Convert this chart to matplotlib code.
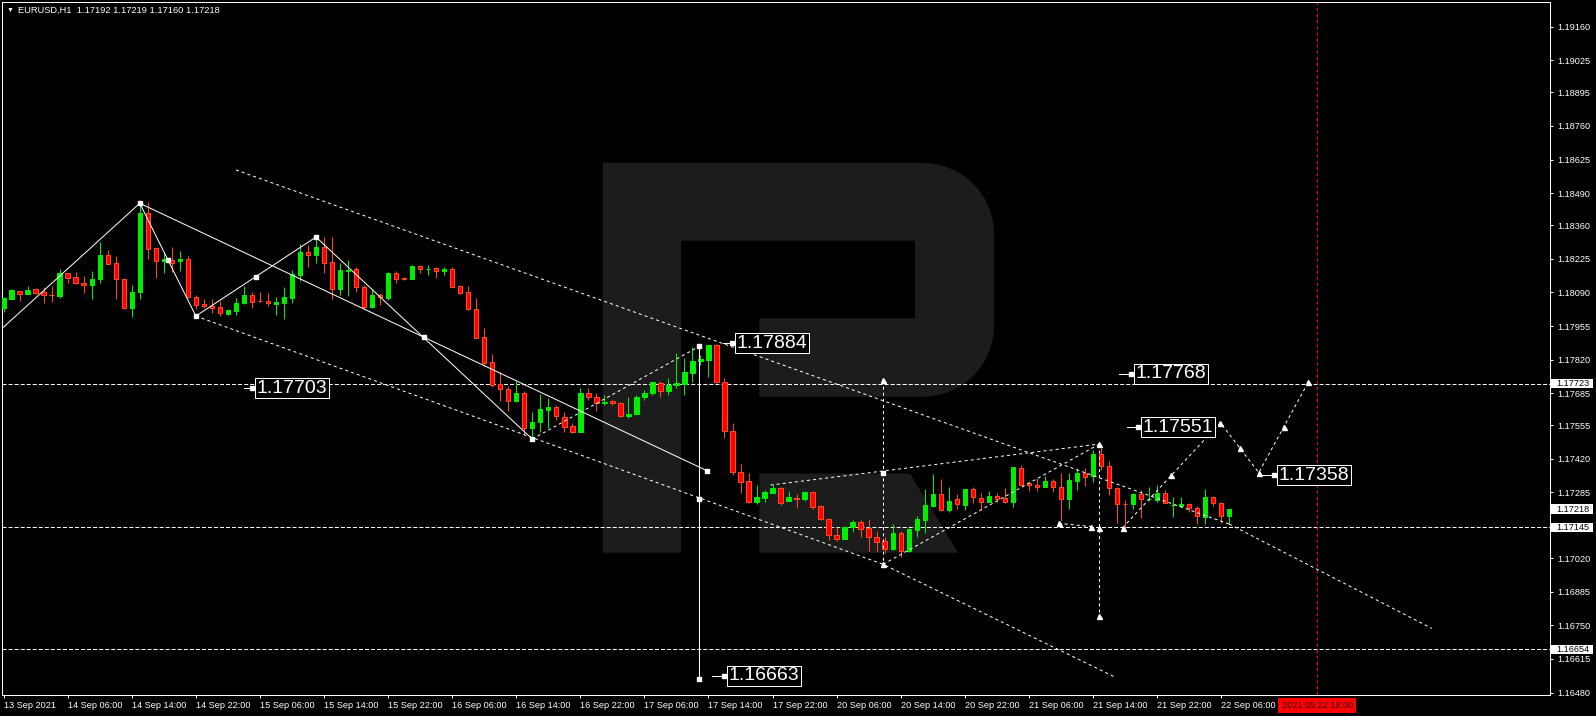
import numpy as np
import matplotlib
matplotlib.use("Agg")
import matplotlib.pyplot as plt
from matplotlib.patches import Polygon, Rectangle
from matplotlib.transforms import Affine2D, blended_transform_factory

plt.rcParams['font.family'] = ['Liberation Sans', 'DejaVu Sans']
plt.rcParams['lines.scale_dashes'] = False

# EURUSD H1, bar 0 = 13 Sep 22:00
opens = [1.18029, 1.18065, 1.18095, 1.18085, 1.18104, 1.18092, 1.18080, 1.18076, 1.18167, 1.18151,
         1.18128, 1.18122, 1.18143, 1.18240, 1.18207, 1.18143, 1.18029, 1.18093, 1.18409, 1.18268,
         1.18215, 1.18221, 1.18215, 1.18225, 1.18071, 1.18045, 1.18036, 1.18031, 1.18004, 1.18016,
         1.18049, 1.18080, 1.18056, 1.18056, 1.18043, 1.18047, 1.18067, 1.18159, 1.18252, 1.18240,
         1.18272, 1.18212, 1.18105, 1.18178, 1.18184, 1.18111, 1.18033, 1.18080, 1.18068, 1.18167,
         1.18148, 1.18146, 1.18197, 1.18183, 1.18188, 1.18178, 1.18185, 1.18116, 1.18092, 1.18023,
         1.17910, 1.17810, 1.17722, 1.17701, 1.17655, 1.17685, 1.17543, 1.17567, 1.17618, 1.17629,
         1.17588, 1.17553, 1.17530, 1.17685, 1.17669, 1.17645, 1.17653, 1.17645, 1.17591, 1.17599,
         1.17669, 1.17685, 1.17725, 1.17695, 1.17717, 1.17721, 1.17765, 1.17813, 1.17820, 1.17878,
         1.17729, 1.17532, 1.17369, 1.17330, 1.17247, 1.17263, 1.17284, 1.17303, 1.17251, 1.17262,
         1.17260, 1.17287, 1.17231, 1.17177, 1.17115, 1.17099, 1.17145, 1.17165, 1.17142, 1.17106,
         1.17089, 1.17058, 1.17121, 1.17049, 1.17134, 1.17174, 1.17231, 1.17279, 1.17215, 1.17258,
         1.17235, 1.17298, 1.17263, 1.17248, 1.17271, 1.17264, 1.17248, 1.17383, 1.17322, 1.17317,
         1.17309, 1.17331, 1.17306, 1.17260, 1.17333, 1.17363, 1.17350, 1.17441, 1.17393, 1.17303,
         1.17240, 1.17238, 1.17278, 1.17257, 1.17255, 1.17284, 1.17233, 1.17232, 1.17238, 1.17222,
         1.17188, 1.17268, 1.17244, 1.17192]
highs = [1.18073, 1.18104, 1.18096, 1.18116, 1.18108, 1.18112, 1.18118, 1.18185, 1.18169, 1.18173,
         1.18155, 1.18177, 1.18295, 1.18261, 1.18237, 1.18147, 1.18120, 1.18449, 1.18454, 1.18268,
         1.18254, 1.18274, 1.18257, 1.18237, 1.18079, 1.18064, 1.18064, 1.18056, 1.18020, 1.18069,
         1.18116, 1.18093, 1.18093, 1.18089, 1.18073, 1.18114, 1.18181, 1.18285, 1.18281, 1.18308,
         1.18315, 1.18312, 1.18208, 1.18221, 1.18194, 1.18120, 1.18103, 1.18089, 1.18174, 1.18177,
         1.18152, 1.18201, 1.18201, 1.18201, 1.18192, 1.18192, 1.18194, 1.18122, 1.18116, 1.18068,
         1.17947, 1.17843, 1.17769, 1.17714, 1.17735, 1.17694, 1.17609, 1.17682, 1.17667, 1.17638,
         1.17608, 1.17564, 1.17706, 1.17705, 1.17685, 1.17678, 1.17658, 1.17651, 1.17669, 1.17677,
         1.17698, 1.17731, 1.17735, 1.17745, 1.17847, 1.17825, 1.17870, 1.17840, 1.17878, 1.17884,
         1.17745, 1.17564, 1.17400, 1.17363, 1.17316, 1.17295, 1.17316, 1.17306, 1.17291, 1.17279,
         1.17292, 1.17291, 1.17235, 1.17184, 1.17145, 1.17150, 1.17175, 1.17175, 1.17179, 1.17130,
         1.17106, 1.17157, 1.17131, 1.17141, 1.17190, 1.17298, 1.17360, 1.17338, 1.17306, 1.17279,
         1.17298, 1.17306, 1.17282, 1.17291, 1.17282, 1.17302, 1.17389, 1.17396, 1.17329, 1.17342,
         1.17352, 1.17338, 1.17365, 1.17365, 1.17383, 1.17383, 1.17457, 1.17464, 1.17413, 1.17307,
         1.17255, 1.17282, 1.17295, 1.17306, 1.17316, 1.17295, 1.17266, 1.17268, 1.17242, 1.17231,
         1.17298, 1.17272, 1.17248, 1.17219]
lows = [1.18013, 1.18064, 1.18057, 1.18083, 1.18084, 1.18049, 1.18053, 1.18069, 1.18127, 1.18123,
        1.18087, 1.18063, 1.18127, 1.18204, 1.18065, 1.18025, 1.17993, 1.18065, 1.18226, 1.18150,
        1.18170, 1.18174, 1.18178, 1.18069, 1.18025, 1.18027, 1.18006, 1.17997, 1.17998, 1.18000,
        1.18043, 1.18029, 1.18051, 1.18037, 1.18000, 1.17985, 1.18049, 1.18136, 1.18194, 1.18210,
        1.18167, 1.18065, 1.18080, 1.18076, 1.18091, 1.18024, 1.18029, 1.18040, 1.18060, 1.18130,
        1.18142, 1.18144, 1.18170, 1.18159, 1.18147, 1.18159, 1.18112, 1.18084, 1.18020, 1.17905,
        1.17795, 1.17711, 1.17655, 1.17611, 1.17651, 1.17516, 1.17513, 1.17530, 1.17545, 1.17578,
        1.17530, 1.17526, 1.17527, 1.17658, 1.17611, 1.17638, 1.17638, 1.17587, 1.17583, 1.17597,
        1.17658, 1.17678, 1.17671, 1.17679, 1.17707, 1.17677, 1.17731, 1.17800, 1.17749, 1.17725,
        1.17504, 1.17356, 1.17282, 1.17242, 1.17240, 1.17248, 1.17282, 1.17235, 1.17250, 1.17224,
        1.17251, 1.17220, 1.17175, 1.17094, 1.17090, 1.17097, 1.17128, 1.17105, 1.17051, 1.17045,
        1.17040, 1.17054, 1.17027, 1.17045, 1.17105, 1.17121, 1.17228, 1.17212, 1.17208, 1.17218,
        1.17215, 1.17244, 1.17215, 1.17247, 1.17247, 1.17244, 1.17228, 1.17316, 1.17293, 1.17289,
        1.17306, 1.17286, 1.17172, 1.17220, 1.17296, 1.17312, 1.17329, 1.17377, 1.17276, 1.17161,
        1.17141, 1.17218, 1.17182, 1.17250, 1.17247, 1.17242, 1.17188, 1.17228, 1.17208, 1.17158,
        1.17158, 1.17231, 1.17161, 1.17160]
closes = [1.18067, 1.18100, 1.18085, 1.18100, 1.18089, 1.18079, 1.18078, 1.18167, 1.18150, 1.18127,
          1.18120, 1.18145, 1.18240, 1.18206, 1.18143, 1.18029, 1.18091, 1.18411, 1.18266, 1.18215,
          1.18225, 1.18210, 1.18225, 1.18071, 1.18039, 1.18036, 1.18027, 1.18006, 1.18020, 1.18047,
          1.18080, 1.18053, 1.18054, 1.18047, 1.18053, 1.18071, 1.18163, 1.18252, 1.18240, 1.18272,
          1.18208, 1.18105, 1.18181, 1.18181, 1.18111, 1.18033, 1.18080, 1.18071, 1.18167, 1.18146,
          1.18146, 1.18197, 1.18184, 1.18185, 1.18178, 1.18185, 1.18114, 1.18089, 1.18023, 1.17908,
          1.17808, 1.17719, 1.17703, 1.17655, 1.17685, 1.17543, 1.17569, 1.17621, 1.17629, 1.17591,
          1.17548, 1.17530, 1.17685, 1.17671, 1.17645, 1.17651, 1.17645, 1.17591, 1.17602, 1.17669,
          1.17685, 1.17729, 1.17695, 1.17717, 1.17725, 1.17770, 1.17813, 1.17823, 1.17878, 1.17729,
          1.17532, 1.17369, 1.17329, 1.17247, 1.17265, 1.17286, 1.17303, 1.17244, 1.17266, 1.17260,
          1.17287, 1.17228, 1.17177, 1.17115, 1.17099, 1.17145, 1.17165, 1.17140, 1.17105, 1.17087,
          1.17059, 1.17121, 1.17049, 1.17137, 1.17177, 1.17235, 1.17279, 1.17215, 1.17251, 1.17238,
          1.17298, 1.17268, 1.17248, 1.17271, 1.17260, 1.17248, 1.17386, 1.17317, 1.17314, 1.17309,
          1.17331, 1.17306, 1.17260, 1.17336, 1.17365, 1.17349, 1.17441, 1.17390, 1.17303, 1.17238,
          1.17238, 1.17278, 1.17258, 1.17259, 1.17284, 1.17244, 1.17235, 1.17238, 1.17222, 1.17191,
          1.17268, 1.17242, 1.17191, 1.17218]

x_labels = ["13 Sep 2021", "14 Sep 06:00", "14 Sep 14:00", "14 Sep 22:00", "15 Sep 06:00",
            "15 Sep 14:00", "15 Sep 22:00", "16 Sep 06:00", "16 Sep 14:00", "16 Sep 22:00",
            "17 Sep 06:00", "17 Sep 14:00", "17 Sep 22:00", "20 Sep 06:00", "20 Sep 14:00",
            "20 Sep 22:00", "21 Sep 06:00", "21 Sep 14:00", "21 Sep 22:00", "22 Sep 06:00"]
y_ticks = [1.19160, 1.19025, 1.18895, 1.18760, 1.18625, 1.18490, 1.18360, 1.18225, 1.18090,
           1.17955, 1.17820, 1.17685, 1.17555, 1.17420, 1.17285, 1.17020, 1.16885, 1.16750,
           1.16615, 1.16480]
level_prices = [1.17723, 1.17145, 1.16654]
boxed_prices = [1.17723, 1.17218, 1.17145, 1.16654]

# solid analysis lines (bar index, price)
zigzag_bars = [-0.2, 17, 24, 39]
zigzag_prices = [1.17945, 1.18449, 1.17995, 1.18313]
trend1_bars = [17, 87.85]
trend1_prices = [1.18449, 1.17372]
trend2_bars = [39, 66]
trend2_prices = [1.18313, 1.17500]
vline_bar = 86.85
vline_prices = [1.17873, 1.17258, 1.16534]

# dotted lines
chan_top_bars = [29, 153]
chan_top_prices = [1.18583, 1.17158]
chan_bot_bars = [24, 109.8, 138.7]
chan_bot_prices = [1.17995, 1.16996, 1.16543]
ext_bars = [153, 178.3]
ext_prices = [1.17158, 1.16738]
rise_bars = [66, 86.85]
rise_prices = [1.17500, 1.17873]
tri_top_bars = [95.75, 136.8]
tri_top_prices = [1.17315, 1.17480]
tri_bot_bars = [109.8, 136.8]
tri_bot_prices = [1.16996, 1.17480]
vdot1_bar = 109.8
vdot1_prices = [1.17738, 1.17365, 1.16996]
vdot2_bar = 136.8
vdot2_prices = [1.17480, 1.17141, 1.16788]
seg_bars = [131.7, 135.8]
seg_prices = [1.17161, 1.17148]
fc_bars = [139.7, 151.9, 156.7, 162.9]
fc_prices = [1.17143, 1.17566, 1.17365, 1.17730]

label_texts = ["1.17884", "1.17703", "1.17768", "1.17551", "1.17358", "1.16663"]
label_from = [89.8, 30.0, 139.3, 140.2, 157.1, 88.5]
label_bars = [91.2, 31.3, 141.0, 141.9, 158.9, 90.2]
label_prices = [1.17886, 1.17705, 1.17763, 1.17548, 1.17355, 1.16548]

x_labels_step = 8
now_bar = 164
now_text = "2021.09.22 18:00"
header = "EURUSD,H1  1.17192 1.17219 1.17160 1.17218"

W, H = 1596, 716
PX = 0.72
GREEN = '#00ee00'
RED = '#ff0000'
RED_EDGE = '#ff4a1c'
WHITE = 'white'
BAR_PX = 8.01

fig = plt.figure(figsize=(W / 100, H / 100), dpi=100, facecolor='black')
ax = fig.add_axes([2 / W, 1 - 695 / H, 1548 / W, 693 / H], facecolor='black')
ax.set_xlim(-0.2, 193.06)
ax.set_ylim(1.16470, 1.19259)

# watermark logo (pixel geometry)
px_tr = Affine2D().scale(1 / 100, -1 / 100).translate(0, H / 100) + fig.dpi_scale_trans


def arc(cx, cy, r, a0, a1, n=16):
    t = np.radians(np.linspace(a0, a1, n))
    return list(zip(cx + r * np.cos(t), cy - r * np.sin(t)))


logo = ([(602.7, 162.7), (923, 162.7)] + arc(923, 234, 71, 90, 0) + arc(923, 325.7, 71, 0, -90)
        + [(759.3, 396.7), (759.3, 318.3), (915, 318.3), (915, 240.7), (681, 240.7),
           (681, 552.7), (602.7, 552.7)])
leg = [(759.3, 473.5), (910, 473.5), (958, 552.7), (759.3, 552.7)]
for shape in (logo, leg):
    ax.add_patch(Polygon(shape, closed=True, transform=px_tr, fc='#1c1c1c', ec='none',
                         zorder=0.5, clip_on=False))

# horizontal levels
for p in level_prices:
    ax.axhline(p, color=WHITE, lw=PX, ls=(0, (2.9, 1.45)), zorder=2)

# candles
o, h, l, c = map(np.array, (opens, highs, lows, closes))
idx = np.arange(len(o))
up = c >= o
ax.vlines(idx[up], l[up], h[up], color=GREEN, lw=PX, zorder=3)
ax.vlines(idx[~up], l[~up], h[~up], color=RED_EDGE, lw=PX, zorder=3)
lo = np.minimum(o, c)
ht = np.maximum(np.abs(c - o), 0.00002)
ax.bar(idx[up], ht[up], 0.55, bottom=lo[up], color=GREEN, edgecolor=GREEN, lw=PX, zorder=4)
ax.bar(idx[~up], ht[~up], 0.55, bottom=lo[~up], color=RED, edgecolor=RED_EDGE, lw=PX, zorder=4)

# solid lines
solid = dict(color=WHITE, lw=PX, zorder=5)
ax.plot(zigzag_bars, zigzag_prices, **solid)
ax.plot(trend1_bars, trend1_prices, **solid)
ax.plot(trend2_bars, trend2_prices, **solid)
ax.plot([vline_bar, vline_bar], [vline_prices[0], vline_prices[-1]], **solid)

sq = dict(ls='none', marker='s', ms=3.4, color=WHITE, zorder=6)
zb, zp = np.array(zigzag_bars[1:]), np.array(zigzag_prices[1:])
ax.plot(np.r_[zb, (zb[:-1] + zb[1:]) / 2], np.r_[zp, (zp[:-1] + zp[1:]) / 2], **sq)
ax.plot([np.mean(trend1_bars), trend1_bars[1], trend2_bars[1]],
        [np.mean(trend1_prices), trend1_prices[1], trend2_prices[1]], **sq)
ax.plot([vline_bar] * 3, vline_prices, **sq)

# dotted lines
dot = dict(color=WHITE, lw=PX, ls=(0, (2.2, 2.2)), zorder=5)
for bx, py in [(chan_top_bars, chan_top_prices), (chan_bot_bars, chan_bot_prices),
               (ext_bars, ext_prices), (rise_bars, rise_prices),
               (tri_top_bars, tri_top_prices), (tri_bot_bars, tri_bot_prices),
               (seg_bars, seg_prices), (fc_bars, fc_prices)]:
    ax.plot(bx, py, **dot)
ax.plot([vdot1_bar] * 2, [vdot1_prices[0], vdot1_prices[-1]], **dot)
ax.plot([vdot2_bar] * 2, [vdot2_prices[0], vdot2_prices[-1]], **dot)

arr = dict(ls='none', marker='^', ms=3.6, color=WHITE, zorder=6)
fb, fp = np.array(fc_bars), np.array(fc_prices)
ax.plot(np.r_[fb, (fb[:-1] + fb[1:]) / 2], np.r_[fp, (fp[:-1] + fp[1:]) / 2], **arr)
ax.plot([vdot1_bar, vdot1_bar], [vdot1_prices[0], vdot1_prices[2]], **arr)
ax.plot([vdot1_bar], [vdot1_prices[1]], **sq)
ax.plot([vdot2_bar] * 3, vdot2_prices, **arr)
ax.plot(seg_bars, seg_prices, **arr)

# price labels
for txt, x0, x1, p in zip(label_texts, label_from, label_bars, label_prices):
    ax.plot([x0, x1 - 0.25], [p, p], color=WHITE, lw=PX, zorder=6)
    ax.plot([x1 - 0.25], [p], ls='none', marker='s', ms=3.0, color=WHITE, zorder=6)
    ax.text(x1 + 0.3, p, txt, ha='left', va='center', fontsize=14, color=WHITE, zorder=7,
            bbox=dict(boxstyle='square,pad=0.08', fc='black', ec=WHITE, lw=PX))

# current time marker line
ax.axvline(now_bar, color=RED, lw=PX, ls=(0, (2.2, 2.2)), zorder=2)
bt = blended_transform_factory(ax.transData, ax.transAxes)
ax.add_patch(Rectangle((now_bar - 39 / BAR_PX, -18 / 693), 78 / BAR_PX, 15 / 693, transform=bt,
                       fc=RED, ec='none', clip_on=False, zorder=8))
ax.text(now_bar, -10.5 / 693, now_text, transform=bt, ha='center', va='center', fontsize=6.6,
        color='#3a0000', clip_on=False, zorder=9)

# axes styling
for s in ax.spines.values():
    s.set_color(WHITE)
    s.set_linewidth(PX)
ax.yaxis.tick_right()
ax.set_yticks(y_ticks)
ax.set_yticklabels([f"{v:.5f}" for v in y_ticks])
ax.tick_params(axis='y', colors=WHITE, length=3 * PX, width=PX, pad=3.0, labelsize=6.6)
ax.set_xticks(range(0, x_labels_step * len(x_labels), x_labels_step))
ax.set_xticklabels(x_labels)
ax.tick_params(axis='x', colors=WHITE, length=3 * PX, width=PX, pad=2.0, labelsize=6.6)
for t in ax.get_xticklabels():
    t.set_ha('left')

bt_y = blended_transform_factory(ax.transAxes, ax.transData)
for p in boxed_prices:
    ax.add_patch(Rectangle((1 + 1 / 1548, p - 0.000188), 42 / 1548, 0.000376, transform=bt_y,
                           fc=WHITE, ec='none', clip_on=False, zorder=8))
    ax.text(1 + 6.7 / 1548, p, f"{p:.5f}", transform=bt_y, ha='left', va='center', fontsize=6.6,
            color='black', clip_on=False, zorder=9)

fig.text(7 / W, 1 - 10.5 / H, "\u25bc", fontsize=5, color=WHITE, va='center')
fig.text(18 / W, 1 - 10.5 / H, header, fontsize=6.7, color=WHITE, va='center')

fig.savefig("out.png", dpi=100, facecolor='black')
